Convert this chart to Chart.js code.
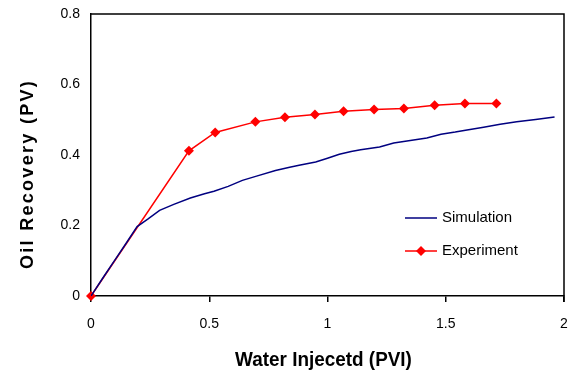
<!DOCTYPE html>
<html>
<head>
<meta charset="utf-8">
<script src="https://cdn.jsdelivr.net/npm/chart.js@4/dist/chart.umd.min.js"></script>
<style>
  html, body { margin: 0; padding: 0; background: #fff; }
  #wrap { width: 574px; height: 377px; }
</style>
</head>
<body>
<div id="wrap"><canvas id="Line"></canvas></div>
<script>
// Simulation curve (x = PVI, y = PV)
var simX = [0, 0.05, 0.10, 0.15, 0.195, 0.24, 0.29, 0.35, 0.42, 0.48, 0.52, 0.58, 0.64, 0.70, 0.78, 0.84, 0.88, 0.95, 1.00, 1.05, 1.10, 1.14, 1.22, 1.28, 1.35, 1.42, 1.48, 1.54, 1.59, 1.66, 1.73, 1.80, 1.88, 1.96];
var simY = [0, 0.051, 0.101, 0.151, 0.197, 0.218, 0.243, 0.260, 0.278, 0.290, 0.297, 0.311, 0.328, 0.340, 0.356, 0.365, 0.371, 0.380, 0.391, 0.402, 0.410, 0.415, 0.423, 0.434, 0.441, 0.448, 0.459, 0.465, 0.471, 0.479, 0.487, 0.494, 0.501, 0.508];

// Experiment points
var expX = [0, 0.414, 0.525, 0.695, 0.820, 0.947, 1.068, 1.197, 1.323, 1.453, 1.581, 1.714];
var expY = [0, 0.412, 0.464, 0.494, 0.507, 0.515, 0.524, 0.529, 0.532, 0.541, 0.546, 0.546];

var seriesNames = ["Simulation", "Experiment"];
var xTitle = "Water Injecetd (PVI)";
var yTitle = "Oil Recovery (PV)";

function pts(xs, ys) {
    return xs.map(function (x, i) { return { x: x, y: ys[i] }; });
}

var navy = "#000080";
var red = "#ff0000";
var tickFont = { family: "'Liberation Sans', Arial, sans-serif", size: 14 };

// box round the plot, axis titles and legend inside the plot
var boxAndLegend = {
    id: "boxAndLegend",
    afterDraw: function (chart) {
        var c = chart.ctx, a = chart.chartArea;
        c.save();
        c.strokeStyle = "#000";
        c.lineWidth = 1.5;
        c.beginPath();
        c.moveTo(a.left, a.top);
        c.lineTo(a.right, a.top);
        c.lineTo(a.right, a.bottom + 6);
        c.stroke();

        // axis titles
        c.fillStyle = "#000";
        c.textAlign = "center";
        c.textBaseline = "middle";
        c.save();
        c.translate(a.left + (a.right - a.left) / 2 - 4, 360);
        c.scale(0.945, 1);
        c.font = "bold 20px 'Liberation Sans', Arial, sans-serif";
        c.fillText(xTitle, 0, 0);
        c.restore();

        c.save();
        c.translate(28, 174);
        c.rotate(-Math.PI / 2);
        c.font = "bold 18px 'Liberation Sans', Arial, sans-serif";
        c.letterSpacing = "2.3px";
        c.fillText(yTitle, 0, 0);
        c.restore();

        // legend
        c.textAlign = "left";
        c.font = "15px 'Liberation Sans', Arial, sans-serif";
        var rows = [
            { name: seriesNames[0], color: navy, y: 218, marker: false },
            { name: seriesNames[1], color: red, y: 251, marker: true }
        ];
        rows.forEach(function (r) {
            c.strokeStyle = r.color;
            c.lineWidth = 1.5;
            c.beginPath();
            c.moveTo(405, r.y);
            c.lineTo(437, r.y);
            c.stroke();
            if (r.marker) {
                c.fillStyle = r.color;
                c.beginPath();
                c.moveTo(421, r.y - 5);
                c.lineTo(426, r.y);
                c.lineTo(421, r.y + 5);
                c.lineTo(416, r.y);
                c.closePath();
                c.fill();
            }
            c.fillStyle = "#000";
            c.fillText(r.name, 442, r.y);
        });
        c.restore();
    }
};

var data = {
    datasets: [
        {
            label: seriesNames[0],
            data: pts(simX, simY),
            borderColor: navy,
            backgroundColor: navy,
            borderWidth: 1.5,
            pointRadius: 0,
            fill: false,
            tension: 0
        },
        {
            label: seriesNames[1],
            data: pts(expX, expY),
            borderColor: red,
            backgroundColor: red,
            borderWidth: 1.5,
            pointStyle: "rectRot",
            pointRadius: 5,
            pointBorderWidth: 0,
            pointBackgroundColor: red,
            pointBorderColor: red,
            fill: false,
            tension: 0,
            clip: false
        }
    ]
};

var ctx = document.getElementById("Line").getContext("2d");

var myLineChart = new Chart(ctx, {
    type: "line",
    data: data,
    plugins: [boxAndLegend],
    options: {
        responsive: true,
        maintainAspectRatio: false,
        animation: false,
        layout: { padding: { left: 0, right: 10, top: 14, bottom: 0 } },
        plugins: { legend: { display: false }, tooltip: { enabled: false } },
        scales: {
            x: {
                type: "linear",
                min: 0,
                max: 2,
                ticks: {
                    stepSize: 0.5, color: "#000", font: tickFont, padding: 14, maxRotation: 0,
                    callback: function (v) { return String(v); }
                },
                grid: { drawOnChartArea: false, drawTicks: true, tickLength: 6, color: "#000", lineWidth: 1.5 },
                border: { display: true, color: "#000", width: 1.5 },
                afterFit: function (s) { s.height = 81; s.paddingLeft = 0; s.paddingRight = 0; }
            },
            y: {
                type: "linear",
                min: 0,
                max: 0.8,
                ticks: {
                    stepSize: 0.2, color: "#000", font: tickFont, padding: 11,
                    callback: function (v) { return String(Math.round(v * 10) / 10); }
                },
                grid: { drawOnChartArea: false, drawTicks: false },
                border: { display: true, color: "#000", width: 1.5 },
                afterFit: function (s) { s.width = 91; s.paddingTop = 0; s.paddingBottom = 0; }
            }
        }
    }
});
</script>
</body>
</html>
